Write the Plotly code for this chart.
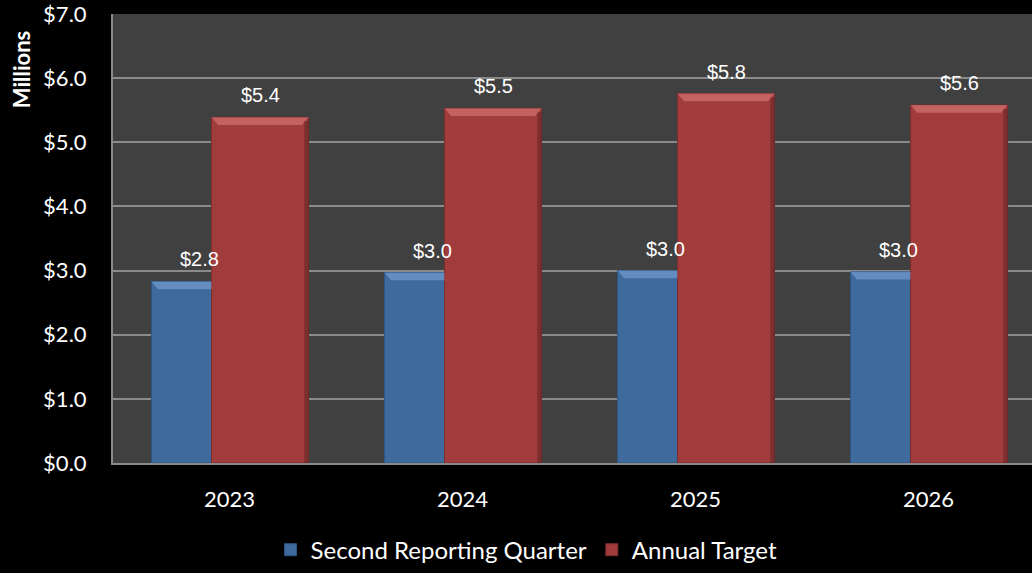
import plotly.graph_objects as go

# Fiscal years and the two series, in millions of dollars
years = ["2023", "2024", "2025", "2026"]
second_quarter = [2.83, 2.97, 3.00, 2.98]
annual_target = [5.39, 5.53, 5.76, 5.58]
y_ticks = [0, 1, 2, 3, 4, 5, 6, 7]

BLUE = "#3e6a9e"
RED = "#a03c3c"
GRID = "#8a8a8a"
BASE_FONT = "Lato, Carlito, Calibri, sans-serif"
TICK_FONT = dict(family=BASE_FONT, size=22, color="white")
LABEL_FONT = dict(family="Liberation Sans Narrow, Arial Narrow, Liberation Sans, sans-serif",
                  size=20, color="white")

xpos = list(range(len(years)))
bar_w = 0.416
blue_off = -0.335
red_off = -0.077

fig = go.Figure()
fig.add_trace(go.Bar(
    x=xpos, y=second_quarter, name="Second Reporting Quarter",
    width=bar_w, offset=blue_off,
    marker=dict(color=BLUE, line=dict(color="#2f5685", width=1)),
))
fig.add_trace(go.Bar(
    x=xpos, y=annual_target, name="Annual Target",
    width=bar_w, offset=red_off,
    marker=dict(color=RED, line=dict(color="#7e2b2b", width=1)),
))

# Bevelled look: a light band along each bar top and a darker right edge
bev_dx, bev_dy = 0.028, 0.12
shapes = []
for xi, v in zip(xpos, second_quarter):
    x0 = xi + blue_off
    x1 = xi + red_off  # blue bar continues behind the red one
    shapes.append(dict(
        type="path", xref="x", yref="y", layer="above", line=dict(width=0),
        fillcolor="rgba(170,205,255,0.35)",
        path=f"M {x0},{v} L {x1},{v} L {x1},{v - bev_dy} L {x0 + bev_dx},{v - bev_dy} Z",
    ))
for xi, v in zip(xpos, annual_target):
    x0 = xi + red_off
    x1 = x0 + bar_w
    shapes.append(dict(
        type="path", xref="x", yref="y", layer="above", line=dict(width=0),
        fillcolor="rgba(255,160,160,0.38)",
        path=(f"M {x0},{v} L {x1},{v} L {x1 - bev_dx},{v - bev_dy} "
              f"L {x0 + bev_dx},{v - bev_dy} Z"),
    ))
    shapes.append(dict(
        type="rect", xref="x", yref="y", layer="above", line=dict(width=0),
        fillcolor="rgba(0,0,0,0.22)",
        x0=x1 - 0.018, x1=x1, y0=0, y1=v - bev_dy * 0.5,
    ))

# Value labels centred above each bar
annotations = []
for series, off in ((second_quarter, blue_off), (annual_target, red_off)):
    for xi, v in zip(xpos, series):
        annotations.append(dict(
            x=xi + off + bar_w / 2, y=v, xref="x", yref="y",
            text=f"${v:.1f}", showarrow=False, yanchor="middle", yshift=22,
            font=LABEL_FONT,
        ))

annotations.append(dict(
    text="<b>Millions</b>", textangle=-90, showarrow=False,
    xref="paper", yref="paper", x=-0.1, y=0.875, xanchor="center", yanchor="middle",
    font=dict(family=BASE_FONT, size=22, color="white"),
))

fig.update_layout(
    width=1032, height=573,
    margin=dict(l=113, r=0, t=14, b=105),
    paper_bgcolor="black",
    plot_bgcolor="#404040",
    barmode="overlay",
    showlegend=True,
    legend=dict(
        orientation="h", x=0.45, xanchor="center", y=-0.194, yanchor="middle",
        font=dict(family=BASE_FONT, size=24, color="white"),
        bgcolor="rgba(0,0,0,0)", itemwidth=30,
    ),
    shapes=shapes,
    annotations=annotations,
    xaxis=dict(
        tickmode="array", tickvals=xpos, ticktext=years,
        range=[-0.5, 3.444], showgrid=False,
        showline=True, linecolor=GRID, linewidth=2,
        tickfont=TICK_FONT, ticks="", ticklabelstandoff=16,
        zeroline=False,
    ),
    yaxis=dict(
        range=[0, 7], tickmode="array", tickvals=y_ticks,
        ticktext=[f"${t:.1f}" for t in y_ticks],
        showgrid=True, gridcolor=GRID, gridwidth=2,
        showline=True, linecolor=GRID, linewidth=2,
        tickfont=TICK_FONT, ticks="", ticklabelstandoff=20,
        ticklabeloverflow="allow",
        zeroline=False,
    ),
)

fig.write_html("out.html")
